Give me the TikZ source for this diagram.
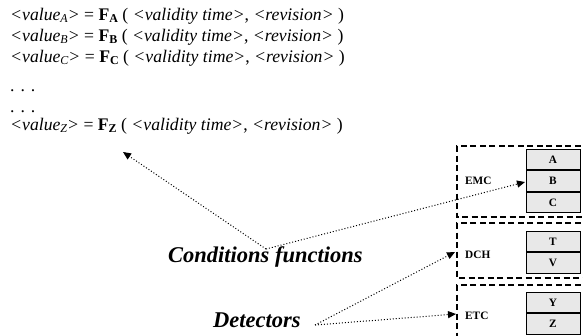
\documentclass[tikz,border=0pt]{standalone}
\usepackage{fontspec}
\setmainfont{Liberation Serif}
\usetikzlibrary{arrows.meta,positioning}
\newcommand{\lowsub}[1]{\raisebox{-0.3ex}{\fontsize{12}{12}\selectfont #1}}
\begin{document}
\begin{tikzpicture}[x=1pt,y=-1pt,
  eqline/.style={anchor=base west,inner sep=0pt,font=\fontsize{17.7}{20}\selectfont},
  groupbox/.style={draw,line width=2pt,dash pattern=on 6pt off 3.5pt},
  cell/.style={draw,line width=1pt,fill=black!9,minimum width=54pt,minimum height=20.5pt,inner sep=0pt,font=\bfseries\fontsize{11.3}{12}\selectfont},
  grouplabel/.style={anchor=west,inner sep=0pt,font=\bfseries\fontsize{11.3}{12}\selectfont},
  biglabel/.style={anchor=base west,inner sep=0pt,font=\bfseries\itshape\fontsize{22.5}{25}\selectfont},
  ptr/.style={dotted,line width=1pt,-{Triangle[length=8pt,width=7pt]}}]
\useasboundingbox (0,0) rectangle (583,335);
% equations
\node[eqline] (eqA) at (10,20) {\textit{<value\lowsub{A}>} = \textbf{F\lowsub{A}} ( \textit{<validity time>}, \textit{<revision>} )};
\node[eqline] (eqB) at (10,41) {\textit{<value\lowsub{B}>} = \textbf{F\lowsub{B}} ( \textit{<validity time>}, \textit{<revision>} )};
\node[eqline] (eqC) at (10,62) {\textit{<value\lowsub{C}>} = \textbf{F\lowsub{C}} ( \textit{<validity time>}, \textit{<revision>} )};
\node[eqline] (dots1) at (10,91) {. . .};
\node[eqline] (dots2) at (10,112) {. . .};
\node[eqline] (eqZ) at (10,130) {\textit{<value\lowsub{Z}>} = \textbf{F\lowsub{Z}} ( \textit{<validity time>}, \textit{<revision>} )};
\coordinate (fz) at (123,152);
% group boxes
\draw[groupbox] (590,146) -- (457,146) -- (457,217) -- (590,217);
\draw[groupbox] (590,223) -- (457,223) -- (457,278) -- (590,278);
\draw[groupbox] (590,285) -- (457,285) -- (457,340);
\node[grouplabel] (emc) at (465,181) {EMC};
\node[grouplabel] (dch) at (465,255) {DCH};
\node[grouplabel] (etc) at (465,316) {ETC};
% cells
\node[cell] (A) at (553,159.5) {A};
\node[cell,below=0pt of A] (B) {B};
\node[cell,below=0pt of B] (C) {C};
\node[cell] (T) at (553,241.5) {T};
\node[cell,below=0pt of T] (V) {V};
\node[cell] (Y) at (553,302.5) {Y};
\node[cell,below=0pt of Y] (Z) {Z};
\coordinate (bin) at (525,182);
\coordinate (dchin) at (455,252);
\coordinate (etcin) at (456,314);
% big labels
\node[biglabel] (cf) at (168,262) {Conditions functions};
\node[biglabel] (det) at (213,327) {Detectors};
\coordinate (cfo) at (266,249);
\coordinate (deto) at (315,325);
% pointers
\draw[ptr] (cfo) -- (fz);
\draw[ptr] (cfo) -- (bin);
\draw[ptr] (deto) -- (dchin);
\draw[ptr] (deto) -- (etcin);
\end{tikzpicture}
\end{document}
